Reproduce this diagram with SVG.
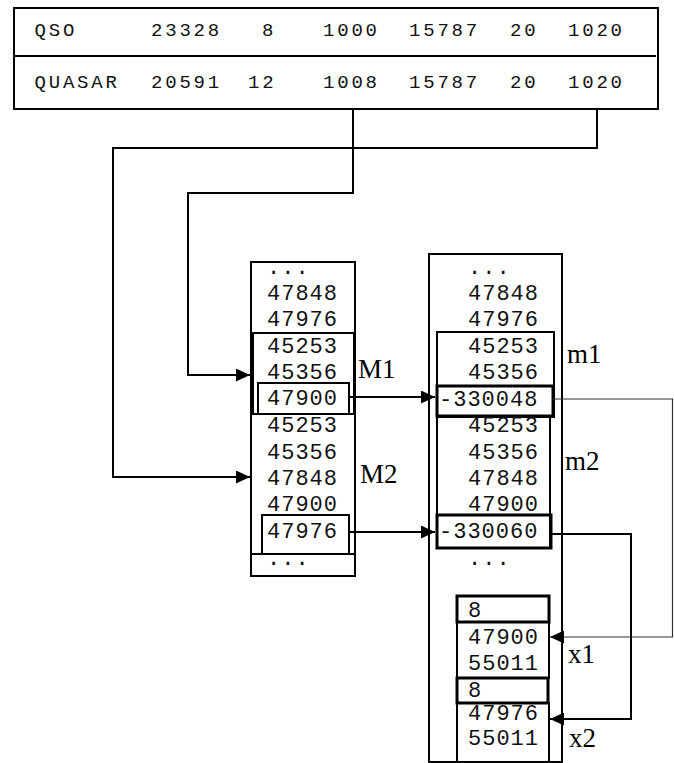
<svg xmlns="http://www.w3.org/2000/svg" width="674" height="763" viewBox="0 0 674 763">
<style>
.bx{fill:none;stroke:#000;stroke-width:2}
.tk{fill:none;stroke:#000;stroke-width:3}
.cn{fill:none;stroke:#000;stroke-width:2}
.cnt{fill:none;stroke:#333;stroke-width:1.2}
.tt{font-family:"Liberation Mono",monospace;font-size:19px;letter-spacing:2.8px;fill:#111}
.mt{font-family:"Liberation Mono",monospace;font-size:22px;letter-spacing:1px;fill:#111}
.lb{font-family:"Liberation Serif","Times New Roman",serif;font-size:27px;fill:#000}
</style>
<defs>
<marker id="ah" markerUnits="userSpaceOnUse" markerWidth="14" markerHeight="13" refX="14" refY="6.5" orient="auto">
<path d="M0,0 L14,6.5 L0,13 z" fill="#000"/>
</marker>
</defs>
<rect width="674" height="763" fill="#fff"/>

<g id="table">
<rect class="bx" x="14" y="8" width="644" height="101"/>
<line class="bx" x1="14" y1="56" x2="656" y2="56"/>
<text class="tt" x="34.5" y="36">QSO</text>
<text class="tt" x="151" y="36">23328</text>
<text class="tt" x="262" y="36">8</text>
<text class="tt" x="323" y="36">1000</text>
<text class="tt" x="409" y="36">15787</text>
<text class="tt" x="510" y="36">20</text>
<text class="tt" x="568" y="36">1020</text>
<text class="tt" x="34.5" y="88">QUASAR</text>
<text class="tt" x="151" y="88">20591</text>
<text class="tt" x="248" y="88">12</text>
<text class="tt" x="323" y="88">1008</text>
<text class="tt" x="409" y="88">15787</text>
<text class="tt" x="510" y="88">20</text>
<text class="tt" x="568" y="88">1020</text>
</g>

<g id="left-column">
<rect class="bx" x="251" y="262" width="104" height="314"/>
<rect class="bx" x="253" y="333" width="101" height="81"/>
<rect class="bx" x="258" y="383" width="91" height="31"/>
<rect class="bx" x="262" y="515" width="87" height="39"/>
<line class="bx" x1="251" y1="554" x2="355" y2="554"/>
<text class="mt" x="267" y="274">...</text>
<text class="mt" x="267" y="300">47848</text>
<text class="mt" x="267" y="326">47976</text>
<text class="mt" x="267" y="352.5">45253</text>
<text class="mt" x="267" y="379">45356</text>
<text class="mt" x="267" y="404.5">47900</text>
<text class="mt" x="267" y="432">45253</text>
<text class="mt" x="267" y="458.5">45356</text>
<text class="mt" x="267" y="485">47848</text>
<text class="mt" x="267" y="511">47900</text>
<text class="mt" x="267" y="537.5">47976</text>
<text class="mt" x="267" y="565">...</text>
<text class="lb" x="358" y="378">M1</text>
<text class="lb" x="360" y="483">M2</text>
</g>

<g id="right-column">
<rect class="bx" x="429" y="254" width="133" height="508"/>
<rect class="bx" x="437" y="332" width="117" height="85"/>
<rect class="bx" x="437" y="416" width="113" height="132"/>
<rect class="tk" x="437" y="386" width="116" height="30"/>
<rect class="tk" x="437" y="515" width="114" height="33"/>
<text class="mt" x="468" y="274">...</text>
<text class="mt" x="468" y="300">47848</text>
<text class="mt" x="468" y="326">47976</text>
<text class="mt" x="468" y="352.5">45253</text>
<text class="mt" x="468" y="379">45356</text>
<text class="mt" x="439" y="406">-330048</text>
<text class="mt" x="468" y="432">45253</text>
<text class="mt" x="468" y="458.5">45356</text>
<text class="mt" x="468" y="485">47848</text>
<text class="mt" x="468" y="511">47900</text>
<text class="mt" x="439" y="537.5">-330060</text>
<text class="mt" x="468" y="565">...</text>
<text class="lb" x="567" y="363">m1</text>
<text class="lb" x="565" y="470">m2</text>
</g>

<g id="x-records">
<rect class="tk" x="457" y="596" width="92" height="26"/>
<rect class="bx" x="457" y="622" width="92" height="56"/>
<rect class="tk" x="457" y="678" width="91" height="25"/>
<rect class="bx" x="457" y="703" width="92" height="59"/>
<text class="mt" x="468" y="617">8</text>
<text class="mt" x="468" y="644">47900</text>
<text class="mt" x="468" y="670">55011</text>
<text class="mt" x="468" y="697">8</text>
<text class="mt" x="468" y="720">47976</text>
<text class="mt" x="468" y="745">55011</text>
<text class="lb" x="568" y="663">x1</text>
<text class="lb" x="569" y="747">x2</text>
</g>

<g id="connectors">
<path class="cn" d="M353,109 V193 H188 V375 H250" marker-end="url(#ah)"/>
<path class="cn" d="M597,109 V148 H113 V477 H250" marker-end="url(#ah)"/>
<path class="cn" d="M349,397 H435" marker-end="url(#ah)"/>
<path class="cn" d="M349,532 H435" marker-end="url(#ah)"/>
<path class="cnt" d="M553,399 H672.5 V637 H550" marker-end="url(#ah)"/>
<path class="cn" d="M552,534 H631 V719 H550" marker-end="url(#ah)"/>
</g>
</svg>
